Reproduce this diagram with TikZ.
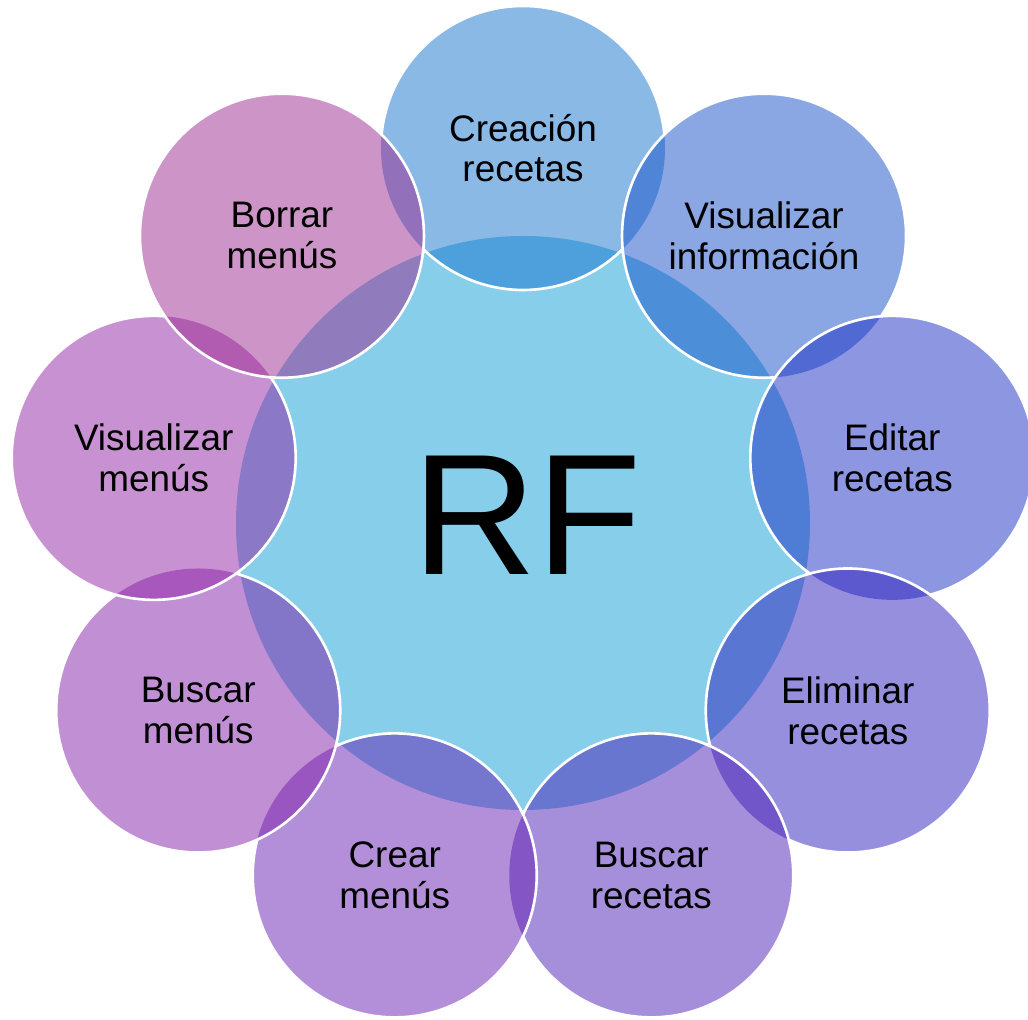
\documentclass[tikz,border=0pt]{standalone}
\usepackage{fontspec}
\setmainfont{Liberation Sans}
\usetikzlibrary{positioning}
\definecolor{rfcentro}{RGB}{134,206,234}
\definecolor{rfa}{RGB}{21,115,205}
\definecolor{rfb}{RGB}{21,79,199}
\definecolor{rfc}{RGB}{25,45,195}
\definecolor{rfd}{RGB}{45,31,189}
\definecolor{rfe}{RGB}{75,31,181}
\definecolor{rff}{RGB}{101,31,177}
\definecolor{rfg}{RGB}{129,31,169}
\definecolor{rfh}{RGB}{145,35,165}
\definecolor{rfi}{RGB}{155,41,143}

\begin{document}
\begin{tikzpicture}[
    burbuja/.style={circle, minimum size=2.84cm, inner sep=0pt, fill opacity=0.5, text opacity=1,
        align=center, font=\fontsize{10.5}{11.6}\selectfont},
    borde/.style={white, line width=0.75pt}
]
    \clip (-5.23,-4.97) rectangle (5.05,5.23);

    % circulo central
    \node[circle, minimum size=5.74cm, inner sep=0pt, fill=rfcentro] (rf) at (0,0) {};
    \node[font=\fontsize{49}{49}\selectfont] (rftexto) at (0.04,0.08) {RF};

    % circulos de alrededor
    \foreach \ang/\col/\txt [count=\i] in {
        90/rfa/{Creación\\recetas},
        50/rfb/{Visualizar\\información},
        10/rfc/{Editar\\recetas},
        -30/rfd/{Eliminar\\recetas},
        -70/rfe/{Buscar\\recetas},
        -110/rff/{Crear\\menús},
        -150/rfg/{Buscar\\menús},
        170/rfh/{Visualizar\\menús},
        130/rfi/{Borrar\\menús}} {
        \node[burbuja, fill=\col] (b\i) at (\ang:3.75) {\txt};
    }

    % bordes blancos, tapados por el circulo siguiente
    \foreach \i in {1,...,8} {
        \pgfmathtruncatemacro{\j}{\i+1}
        \begin{scope}
            \ifnum\i=1
                \clip (b9.center) circle (1.42) (-6,-6) rectangle (6,6);
            \fi
            \clip (b\j.center) circle (1.42) (-6,-6) rectangle (6,6);
            \draw[borde] (b\i.center) circle (1.42);
        \end{scope}
    }
    \draw[borde] (b9.center) circle (1.42);
\end{tikzpicture}
\end{document}
